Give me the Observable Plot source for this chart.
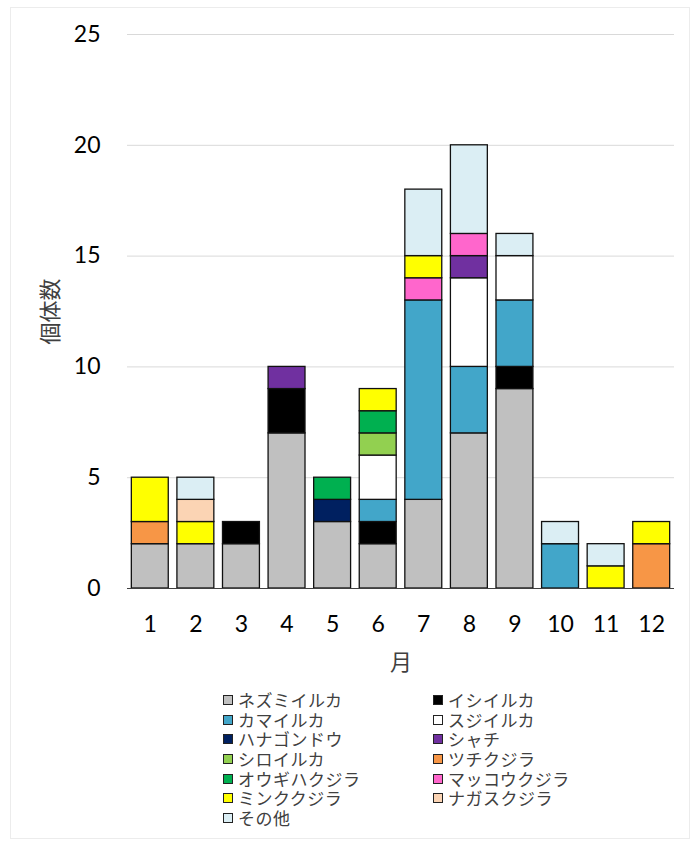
<!DOCTYPE html>
<html><head><meta charset="utf-8">
<script src="https://cdn.jsdelivr.net/npm/d3@7"></script>
<script src="https://cdn.jsdelivr.net/npm/@observablehq/plot@0.6"></script>
<style>
body{margin:0;background:#fff;font-family:Lato,"Noto Sans CJK JP",sans-serif;}
#frame{position:absolute;left:10px;top:7px;width:678px;height:830px;border:1px solid #ececec;}
#chart{position:absolute;left:0;top:0;}
#legend{position:absolute;left:223px;top:690px;display:grid;grid-template-columns:210px 210px;grid-auto-rows:19.7px;font-size:17px;line-height:19.7px;color:#404040;font-family:"Noto Sans CJK JP",sans-serif;}
.item{display:flex;align-items:center;white-space:nowrap;height:19.7px;line-height:19.7px;overflow:visible;}
.sw{width:8px;height:8px;border:1px solid #222;margin-right:5px;flex:none;}
.lt{letter-spacing:0.5px;}
</style></head><body>
<div id="frame"></div><div id="chart"></div><div id="legend"></div>
<script>
const months = [1,2,3,4,5,6,7,8,9,10,11,12];
const yTicks = [0,5,10,15,20,25];
const xLabel = "月";
const yLabel = "個体数";
const seriesNames = ["ネズミイルカ","イシイルカ","カマイルカ","スジイルカ","ハナゴンドウ","シャチ","シロイルカ","ツチクジラ","オウギハクジラ","マッコウクジラ","ミンククジラ","ナガスクジラ","その他"];
const seriesColors = ["#c0c0c0","#000000","#42a6c9","#ffffff","#002060","#7030a0","#92d050","#f79646","#00b050","#ff66cc","#ffff00","#fbd4b4","#dbeef4"];
const nezumiiruka   = [2,2,2,7,3,2,4,7,9,0,0,0];
const ishiiruka     = [0,0,1,2,0,1,0,0,1,0,0,0];
const kamairuka     = [0,0,0,0,0,1,9,3,3,2,0,0];
const sujiiruka     = [0,0,0,0,0,2,0,4,2,0,0,0];
const hanagondou    = [0,0,0,0,1,0,0,0,0,0,0,0];
const shachi        = [0,0,0,1,0,0,0,1,0,0,0,0];
const shiroiruka    = [0,0,0,0,0,1,0,0,0,0,0,0];
const tsuchikujira  = [1,0,0,0,0,0,0,0,0,0,0,2];
const ougihakujira  = [0,0,0,0,1,1,0,0,0,0,0,0];
const makkoukujira  = [0,0,0,0,0,0,1,1,0,0,0,0];
const minkukujira   = [2,1,0,0,0,1,1,0,0,0,1,1];
const nagasukujira  = [0,1,0,0,0,0,0,0,0,0,0,0];
const sonota        = [0,1,0,0,0,0,3,4,1,1,1,0];
const seriesValues = [nezumiiruka,ishiiruka,kamairuka,sujiiruka,hanagondou,shachi,shiroiruka,tsuchikujira,ougihakujira,makkoukujira,minkukujira,nagasukujira,sonota];

const rows = [];
seriesNames.forEach((s,i)=>months.forEach((m,j)=>{
  const v = seriesValues[i][j];
  if (v > 0) rows.push({month:m, series:s, count:v});
}));

const chart = Plot.plot({
  width: 696, height: 690,
  marginLeft: 127, marginRight: 22, marginTop: 34, marginBottom: 102,
  style: {fontFamily: "Lato, 'Noto Sans CJK JP', sans-serif", color: "#000", background: "transparent"},
  x: {type: "band", domain: months, paddingInner: 0.19, paddingOuter: 0.095, round: false},
  y: {domain: [0, 25]},
  color: {domain: seriesNames, range: seriesColors},
  marks: [
    Plot.gridY(yTicks.filter(t => t > 0), {stroke: "#d9d9d9", strokeOpacity: 1, strokeWidth: 1}),
    Plot.barY(rows, {x: "month", y: "count", fill: "series", stroke: "#111", strokeWidth: 1.3}),
    Plot.ruleY([0], {stroke: "#404040", strokeWidth: 1.2}),
    Plot.axisX({tickSize: 0, tickPadding: 27, fontSize: 23, label: null}),
    Plot.axisY(yTicks, {tickSize: 0, tickPadding: 27, fontSize: 23, label: null}),
    Plot.text([xLabel], {text: d => d, frameAnchor: "bottom", lineAnchor: "middle", textAnchor: "middle", dy: 74, fontSize: 22, fill: "#404040"}),
    Plot.text([yLabel], {text: d => d, frameAnchor: "left", textAnchor: "middle", lineAnchor: "middle", dx: -77, rotate: -90, fontSize: 22, fill: "#404040"})
  ]
});
document.getElementById("chart").appendChild(chart);

const legend = document.getElementById("legend");
seriesNames.forEach((s,i)=>{
  const item = document.createElement("div");
  item.className = "item";
  const sw = document.createElement("span");
  sw.className = "sw";
  sw.style.background = seriesColors[i];
  const t = document.createElement("span");
  t.className = "lt";
  t.textContent = s;
  item.appendChild(sw); item.appendChild(t);
  legend.appendChild(item);
});
</script>
</body></html>
